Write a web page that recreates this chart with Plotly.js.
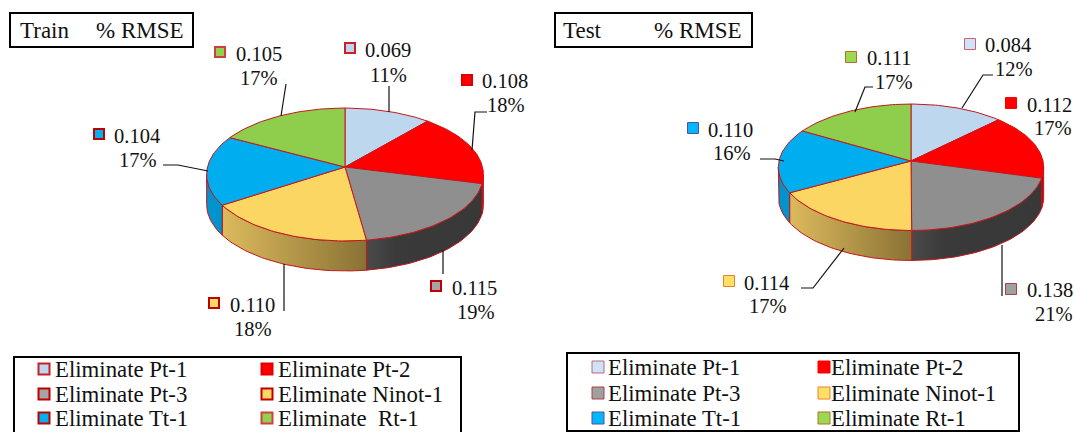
<!DOCTYPE html>
<html>
<head>
<meta charset="utf-8">
<script src="https://cdn.plot.ly/plotly-3.0.1.min.js"></script>
<style>html,body{margin:0;padding:0;background:#fff}#chart{width:1074px;height:432px}</style>
</head>
<body>
<div id="chart"></div>
<script>
// ---- data ----
const categoriesTrain = ['Eliminate Pt-1','Eliminate Pt-2','Eliminate Pt-3','Eliminate Ninot-1','Eliminate Tt-1','Eliminate\u00a0\u00a0Rt-1'];
const categoriesTest  = ['Eliminate Pt-1','Eliminate Pt-2','Eliminate Pt-3','Eliminate Ninot-1','Eliminate Tt-1','Eliminate Rt-1'];
const rmseTrain = [0.069,0.108,0.115,0.110,0.104,0.105];
const rmseTest  = [0.084,0.112,0.138,0.114,0.110,0.111];
const valueTextTrain = ['0.069','0.108','0.115','0.110','0.104','0.105'];
const valueTextTest  = ['0.084','0.112','0.138','0.114','0.110','0.111'];
const percentTrain = ['11%','18%','19%','18%','17%','17%'];
const percentTest  = ['12%','17%','21%','17%','16%','17%'];

// ---- styles ----
const FONT = 'Liberation Serif, Times New Roman, serif';
const topColors = ['#bdd7ee','#ff0000','#8f8f8f','#fbd663','#00adef','#8fce4c'];
const sideScales = [
  [[0,'#a5bcd0'],[1,'#a5bcd0']],
  [[0,'#c00000'],[1,'#c00000']],
  [[0,'#4a4a4a'],[0.25,'#3a3a3a'],[1,'#383838']],
  [[0,'#dcba5c'],[1,'#8a7235']],
  [[0,'#0093cc'],[1,'#0093cc']],
  [[0,'#7ab040'],[1,'#7ab040']]
];
const swatchTrain = {fill:['#bdd7ee','#ff0000','#a5a5a5','#ffd966','#00b0f0','#92d050'],
                     line:['#c8202a','#e00000','#c00000','#c00000','#c00000','#d04040'], width:2};
const swatchTest  = {fill:['#cce4fa','#ff0000','#a0a0a0','#ffe066','#00b8ff','#9cd94f'],
                     line:['#d06070','#ff0000','#b04040','#e88030','#5a5090','#b07030'], width:1};

// ---- placement ----
const placeTrain = {
  geom:{cx:345,cy:167,R:137.5,c:65.6,k:0.113,depth:30},
  swatch:[[350,48],[467,80],[436,286],[214,303],[99,134],[220,52]],
  value:[[363,50],[480,81],[450,288],[228,305],[112,136],[234,54]],
  pct:[[388,75],[506,105],[476,312],[253,329],[138,160],[259,78]],
  leaders:[
    [[389,86],[389,112]],
    [[487,112],[475,112],[472,150]],
    [[443,274],[443,250]],
    [[284,311],[284,264]],
    [[163,165],[178,165],[208,171]],
    [[286,84],[281,116]]
  ],
  titleBox:[10,13,193,47], title:[['Train',17.5],['% RMSE',93.5]],
  legendBox:[14,357,461,445],
  legendX:[[44,53],[267,276]], legendY:[369,394,418]
};
const placeTest = {
  geom:{cx:911,cy:161,R:132,c:62.6,k:0.099,depth:30},
  swatch:[[970,44],[1011,103],[1011,289],[729,281],[693,128],[851,57]],
  value:[[983,45],[1025,105],[1025,290],[742,283],[706,130],[865,58]],
  pct:[[1014,69],[1053,128],[1054,314],[768,306],[732,153],[894,82]],
  leaders:[
    [[993,75],[983,75],[962,108]],
    [[1002,296],[1002,245]],
    [[801,288],[813,288],[844,248]],
    [[760,159],[775,159],[784,161]],
    [[873,87],[865,87],[855,112]]
  ],
  titleBox:[555,13,752,47], title:[['Test',560.5],['% RMSE',652]],
  legendBox:[567,353,1019,431],
  legendX:[[598,606],[824,829]], legendY:[367,393,418]
};

// ---- projection of the pie disc ----
function project(g, deg, r, drop) {
  const t = deg*Math.PI/180, x = r*Math.sin(t), y = -r*Math.cos(t), d = 1-g.k*y;
  return [g.cx+g.R*x/d, g.cy+g.c*y/d+(drop||0)];
}
function arc(g, a0, a1, drop) {
  const out=[], n=Math.max(2,Math.ceil(Math.abs(a1-a0)/1.5));
  for(let i=0;i<=n;i++) out.push(project(g,a0+(a1-a0)*i/n,1,drop));
  return out;
}
const EDGE = '#c4161c';
const traces=[], annotations=[], shapes=[];

function addChart(values, cats, valueText, pctText, place, sw) {
  const g = place.geom, total = values.reduce((a,b)=>a+b,0);
  let cum=0; const bounds = values.map(v=>{const s=cum; cum+=v/total*360; return [s,cum];});
  const visStart = 180/Math.PI*Math.acos(-g.k), visEnd = 360-visStart;
  // side walls
  bounds.forEach((b,i)=>{
    const a0=Math.max(b[0],visStart), a1=Math.min(b[1],visEnd);
    if(a1<=a0) return;
    const pts = arc(g,a0,a1,0).concat(arc(g,a1,a0,g.depth));
    pts.push(pts[0]);
    traces.push({type:'scatter',mode:'lines',x:pts.map(p=>p[0]),y:pts.map(p=>p[1]),fill:'toself',
      fillgradient:{type:'horizontal',colorscale:sideScales[i]},
      line:{color:EDGE,width:1},hoverinfo:'skip',showlegend:false});
  });
  // top slices
  bounds.forEach((b,i)=>{
    const pts=[project(g,0,0)].concat(arc(g,b[0],b[1],0)); pts.push(pts[0]);
    traces.push({type:'scatter',mode:'lines',x:pts.map(p=>p[0]),y:pts.map(p=>p[1]),fill:'toself',
      fillcolor:topColors[i],line:{color:EDGE,width:1},name:cats[i],
      hoverinfo:'name',showlegend:false});
  });
  // data label swatches
  traces.push({type:'scatter',mode:'markers',x:place.swatch.map(p=>p[0]),y:place.swatch.map(p=>p[1]),
    marker:{symbol:'square',size:sw.width>1?10:11,color:sw.fill,line:{color:sw.line,width:sw.width}},
    hoverinfo:'skip',showlegend:false});
  // data label text
  values.forEach((v,i)=>{
    annotations.push({xref:'x',yref:'y',x:place.value[i][0],y:place.value[i][1],text:valueText[i],
      showarrow:false,xanchor:'left',yanchor:'middle',font:{family:FONT,size:20.5,color:'#111'}});
    annotations.push({xref:'x',yref:'y',x:place.pct[i][0],y:place.pct[i][1],text:pctText[i],
      showarrow:false,xanchor:'center',yanchor:'middle',font:{family:FONT,size:20.5,color:'#111'}});
  });
  // leader lines
  place.leaders.forEach(l=>{
    traces.push({type:'scatter',mode:'lines',x:l.map(p=>p[0]),y:l.map(p=>p[1]),
      line:{color:'#111',width:1.2},hoverinfo:'skip',showlegend:false});
  });
  // title box
  const tb=place.titleBox;
  shapes.push({type:'rect',xref:'x',yref:'y',x0:tb[0],y0:tb[1],x1:tb[2],y1:tb[3],line:{color:'#000',width:2},fillcolor:'rgba(0,0,0,0)'});
  place.title.forEach(t=>annotations.push({xref:'x',yref:'y',x:t[1],y:(tb[1]+tb[3])/2,text:t[0],showarrow:false,
    xanchor:'left',yanchor:'middle',font:{family:FONT,size:23,color:'#111'}}));
  // legend box
  const lb=place.legendBox;
  shapes.push({type:'rect',xref:'x',yref:'y',x0:lb[0],y0:lb[1],x1:lb[2],y1:lb[3],line:{color:'#000',width:2},fillcolor:'rgba(0,0,0,0)'});
  const lx=[],ly=[];
  cats.forEach((c,i)=>{
    const col=i%2,row=Math.floor(i/2);
    lx.push(place.legendX[col][0]); ly.push(place.legendY[row]);
    annotations.push({xref:'x',yref:'y',x:place.legendX[col][1],y:place.legendY[row],text:c,showarrow:false,
      xanchor:'left',yanchor:'middle',font:{family:FONT,size:22.8,color:'#111'}});
  });
  traces.push({type:'scatter',mode:'markers',x:lx,y:ly,
    marker:{symbol:'square',size:sw.width>1?11:12,color:sw.fill,line:{color:sw.line,width:sw.width}},
    hoverinfo:'skip',showlegend:false});
}
addChart(rmseTrain,categoriesTrain,valueTextTrain,percentTrain,placeTrain,swatchTrain);
addChart(rmseTest,categoriesTest,valueTextTest,percentTest,placeTest,swatchTest);

Plotly.newPlot('chart',traces,{
  width:1074,height:432,margin:{l:0,r:0,t:0,b:0},
  paper_bgcolor:'#fff',plot_bgcolor:'#fff',showlegend:false,
  xaxis:{range:[0,1074],visible:false,fixedrange:true},
  yaxis:{range:[432,0],visible:false,fixedrange:true},
  annotations:annotations,shapes:shapes
},{displayModeBar:false,staticPlot:true});
</script>
</body>
</html>
